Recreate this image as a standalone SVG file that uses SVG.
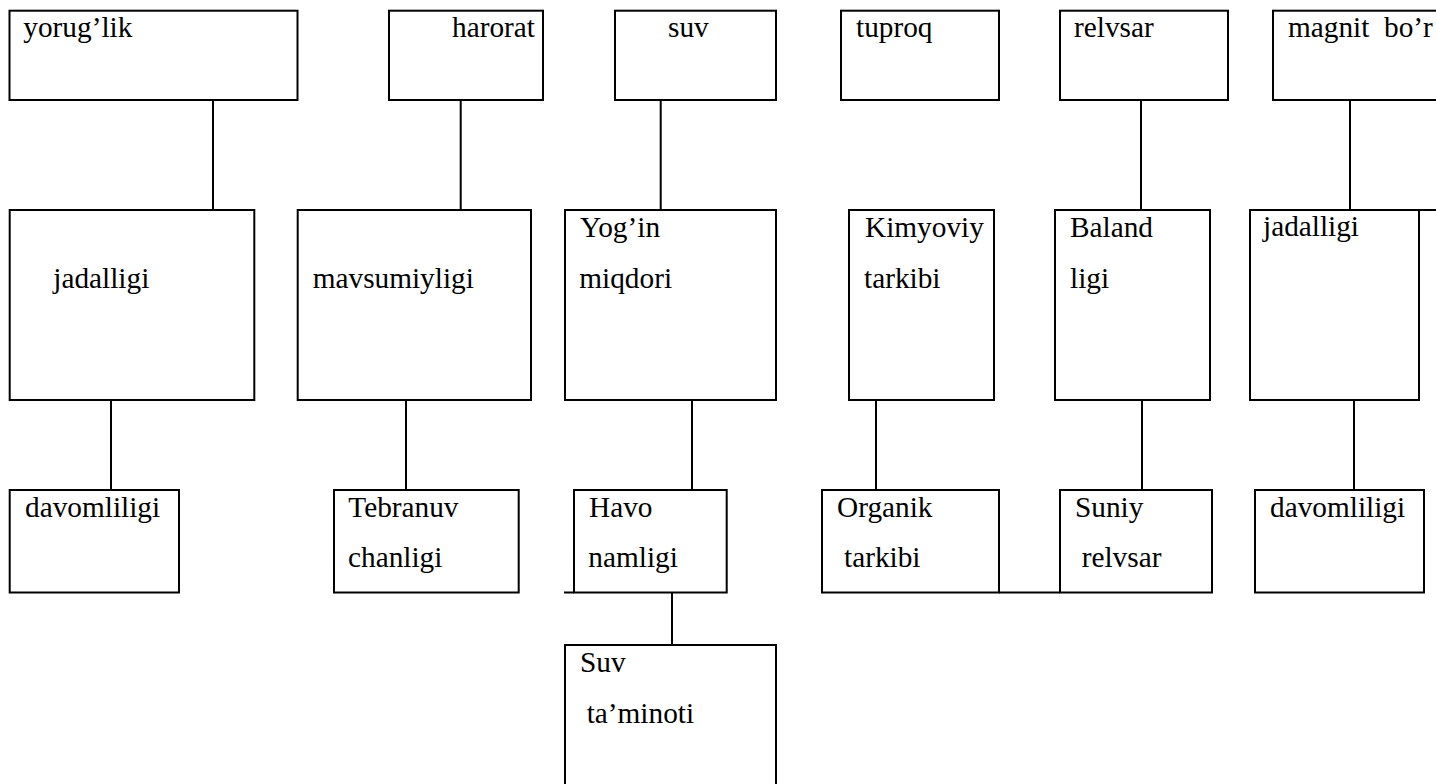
<svg xmlns="http://www.w3.org/2000/svg" width="1436" height="784" viewBox="0 0 1436 784">
<style>
.b{fill:#fff;stroke:#000;stroke-width:2}
.c{fill:none;stroke:#000;stroke-width:2}
text{font-family:"Liberation Serif","Times New Roman",serif;font-size:29.3px;fill:#000;white-space:pre}
</style>
<rect width="1436" height="784" fill="#fff"/>
<g id="connectors">
<path class="c" d="M213,100V210M460.7,100V210M660.7,100V210M1141,100V210M1350,100V210"/>
<path class="c" d="M111,400V490M406,400V490M692,400V490M876,400V490M1142,400V490M1354,400V490"/>
<path class="c" d="M672,592.5V645"/>
<path class="c" d="M1419,210H1436M564,592.5H574M999,592.5H1060"/>
</g>
<g id="n-yorugl"><rect class="b" x="9.5" y="10.7" width="288" height="89.3"/><text x="23.3" y="37.3">yorug’lik</text></g>
<g id="n-harorat"><rect class="b" x="389" y="10.7" width="154" height="89.3"/><text x="535" y="37.3" text-anchor="end">harorat</text></g>
<g id="n-suv"><rect class="b" x="615" y="10.7" width="161" height="89.3"/><text x="668" y="37.3">suv</text></g>
<g id="n-tuproq"><rect class="b" x="841" y="10.7" width="158" height="89.3"/><text x="856" y="37.3">tuproq</text></g>
<g id="n-relvsar"><rect class="b" x="1060" y="10.7" width="168" height="89.3"/><text x="1074" y="37.3">relvsar</text></g>
<g id="n-magnit"><rect class="b" x="1273" y="10.7" width="200" height="89.3"/><text x="1288" y="37.3">magnit  bo’r</text></g>

<g id="n-jadalligi1"><rect class="b" x="9.7" y="210" width="244.6" height="190"/><text x="53.3" y="288">jadalligi</text></g>
<g id="n-mavsum"><rect class="b" x="297.7" y="210" width="233.3" height="190"/><text x="312.7" y="288">mavsumiyligi</text></g>
<g id="n-yogin"><rect class="b" x="565" y="210" width="211" height="190"/><text x="580" y="236.7">Yog’in</text><text x="579.3" y="287.7">miqdori</text></g>
<g id="n-kimyoviy"><rect class="b" x="849" y="210" width="145" height="190"/><text x="865" y="236.7">Kimyoviy</text><text x="864" y="287.7">tarkibi</text></g>
<g id="n-baland"><rect class="b" x="1055" y="210" width="155" height="190"/><text x="1070" y="236.7">Baland</text><text x="1070" y="287.7">ligi</text></g>
<g id="n-jadalligi2"><rect class="b" x="1250" y="210" width="169" height="190"/><text x="1263" y="236.3">jadalligi</text></g>

<g id="n-davom1"><rect class="b" x="9.7" y="490" width="169.3" height="102.5"/><text x="25" y="516.7">davomliligi</text></g>
<g id="n-tebranuv"><rect class="b" x="334" y="490" width="184.7" height="102.5"/><text x="348.3" y="516.7">Tebranuv</text><text x="348" y="567">chanligi</text></g>
<g id="n-havo"><rect class="b" x="574" y="490" width="152.7" height="102.5"/><text x="589" y="516.7">Havo</text><text x="588.3" y="567">namligi</text></g>
<g id="n-organik"><rect class="b" x="822" y="490" width="177" height="102.5"/><text x="837" y="516.7">Organik</text><text x="844" y="567">tarkibi</text></g>
<g id="n-suniy"><rect class="b" x="1060" y="490" width="152" height="102.5"/><text x="1075" y="516.7">Suniy</text><text x="1081.7" y="567">relvsar</text></g>
<g id="n-davom2"><rect class="b" x="1255" y="490" width="169" height="102.5"/><text x="1270" y="516.7">davomliligi</text></g>

<g id="n-suvtaminoti"><rect class="b" x="565" y="645" width="211" height="160"/><text x="580" y="671.7">Suv</text><text x="586.7" y="722.7">ta’minoti</text></g>
</svg>
